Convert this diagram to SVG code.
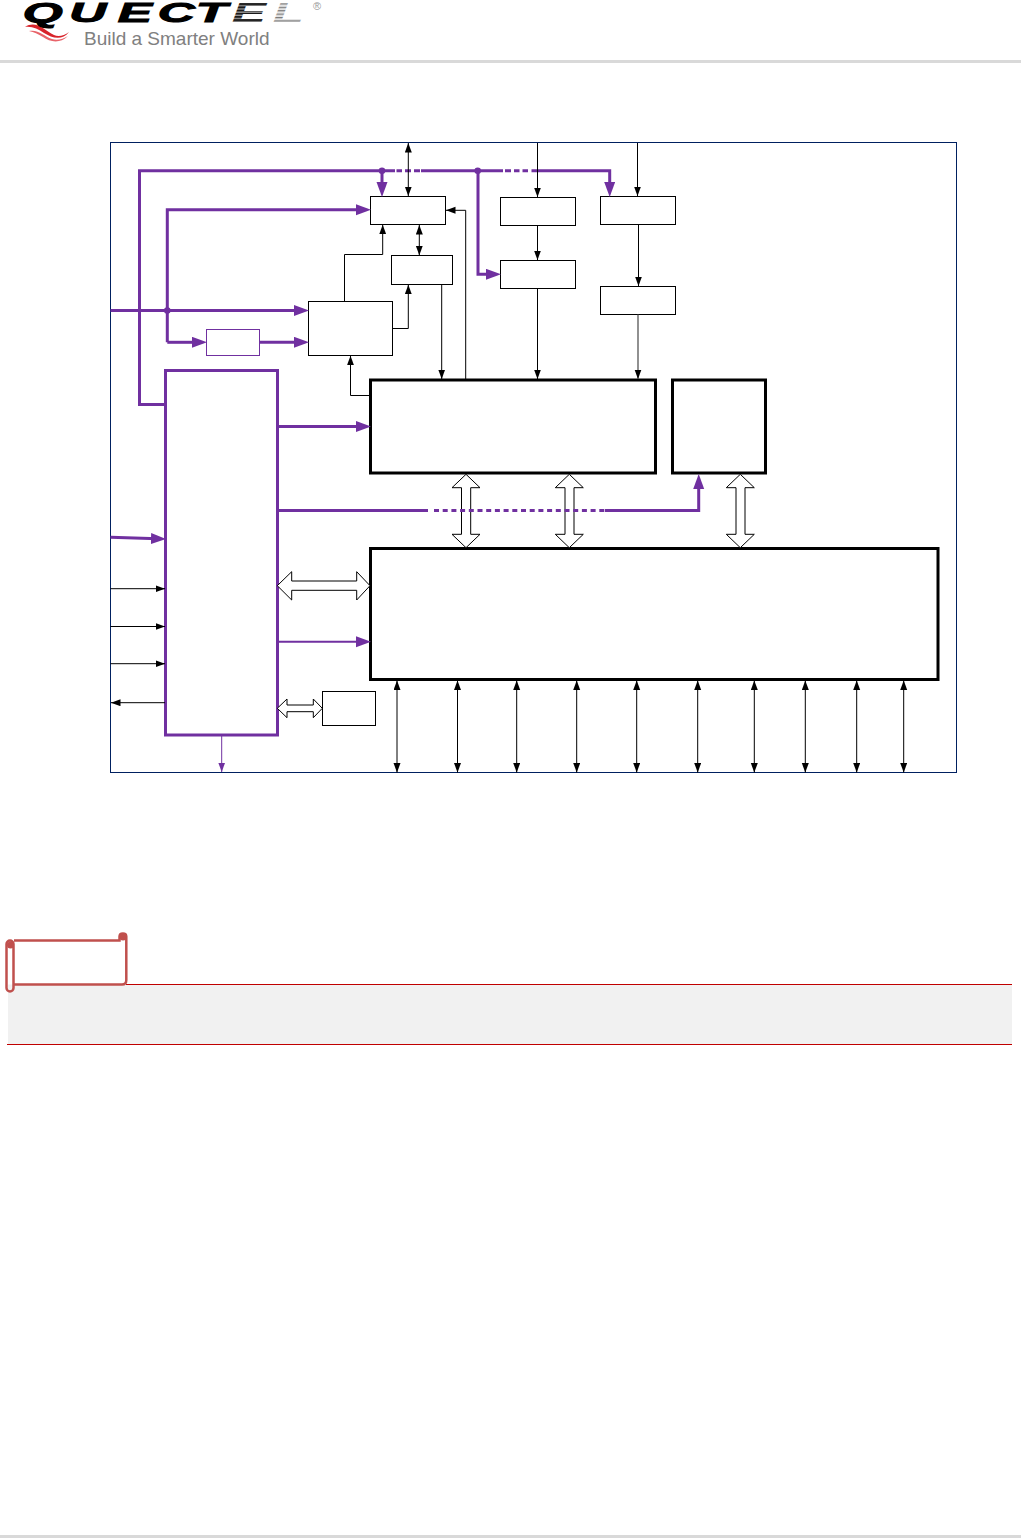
<svg xmlns="http://www.w3.org/2000/svg" width="1021" height="1538" viewBox="0 0 1021 1538">
<style>
.blk{fill:#fff;stroke:#000;stroke-width:1}
.big{fill:#fff;stroke:#000;stroke-width:3;stroke-linejoin:miter}
.pmi{fill:#fff;stroke:#7030a0;stroke-width:3}
.ln{fill:none;stroke:#000;stroke-width:1}
.a1{marker-end:url(#ah)}
.a2{marker-start:url(#ah);marker-end:url(#ah)}
.p{fill:none;stroke:#7030a0;stroke-width:3;stroke-linejoin:miter}
.pa{marker-end:url(#ph)}
.hol{fill:#fff;stroke:#000;stroke-width:1}
.logo{font-family:'Liberation Sans',Arial,sans-serif;font-size:27px;font-weight:700;font-style:italic}
</style>
<defs>
<marker id="ah" markerUnits="userSpaceOnUse" markerWidth="10" markerHeight="8" refX="9.5" refY="3.5" orient="auto-start-reverse"><path d="M0 0L9.5 3.5L0 7z" fill="#000"/></marker>
<marker id="ph" markerUnits="userSpaceOnUse" markerWidth="16" markerHeight="12" refX="7" refY="5.500" orient="auto"><path d="M0 0L15 5.500L0 11z" fill="#7030a0"/></marker>
<marker id="pt" markerUnits="userSpaceOnUse" markerWidth="10" markerHeight="8" refX="9.5" refY="3.5" orient="auto"><path d="M0 0L9.5 3.5L0 7z" fill="#7030a0"/></marker>
<pattern id="st1" width="4" height="3.2" patternUnits="userSpaceOnUse"><rect width="4" height="2.2" fill="#1a1a1a"/><rect y="2.2" width="4" height="1" fill="#9a9a9a"/></pattern>
<pattern id="st2" width="4" height="3.4" patternUnits="userSpaceOnUse"><rect width="4" height="1.4" fill="#777"/><rect y="1.4" width="4" height="2" fill="#e4e4e4"/></pattern>
</defs>
<rect width="1021" height="1538" fill="#fff"/>
<g id="header">
<path d="M25 27C36 20 44 30 54 35C58 37 64 36 69 32C62 41 52 38 44 33C38 29 32 26 25 27z" fill="#d8232a"/>
<path d="M29 31C38 29 44 36 52 39C57 41 63 39 68 36C60 44 50 42 43 37C38 34 34 32 29 31z" fill="#e8646a"/>
<g transform="scale(1.9,1)">
<text class="logo" y="22" stroke="#000" stroke-width="1" x="12 36.500 62 83 103" fill="#000">QUECT</text>
<text class="logo" y="22" x="122" fill="url(#st1)">E</text>
<text class="logo" y="22" x="143.500" fill="url(#st2)">L</text>
</g>
<text x="313" y="10" font-family="'Liberation Sans',Arial,sans-serif" font-size="11" fill="#999">®</text>
<text x="84" y="45" font-family="'Liberation Sans',Arial,sans-serif" font-size="19" fill="#808080">Build a Smarter World</text>
<rect x="0" y="60" width="1021" height="3" fill="#d9d9d9"/>
</g>
<rect id="frame" x="110.5" y="142.5" width="846" height="630" fill="#fff" stroke="#002060" stroke-width="1"/>
<g id="n-pmic"><rect class="pmi" x="165.5" y="370.5" width="112" height="364.5"/></g>
<g id="n-box-a"><rect class="blk" x="370.5" y="196.5" width="75" height="28"/></g>
<g id="n-box-b"><rect class="blk" x="391.5" y="255.5" width="61" height="29"/></g>
<g id="n-box-c"><rect class="blk" x="308.5" y="301.5" width="84" height="54"/></g>
<g id="n-box-d"><rect x="206.5" y="329.5" width="53" height="26" fill="#fff" stroke="#7030a0" stroke-width="1"/></g>
<g id="n-box-e"><rect class="blk" x="500.5" y="197.5" width="75" height="28"/></g>
<g id="n-box-f"><rect class="blk" x="500.5" y="260.5" width="75" height="28"/></g>
<g id="n-box-g"><rect class="blk" x="600.5" y="196.5" width="75" height="28"/></g>
<g id="n-box-h"><rect class="blk" x="600.5" y="286.5" width="75" height="28"/></g>
<g id="n-baseband"><rect class="big" x="370.5" y="380" width="285" height="93"/></g>
<g id="n-memory"><rect class="big" x="672.5" y="380" width="93" height="93"/></g>
<g id="n-peripherals"><rect class="big" x="370.5" y="548.5" width="567.5" height="131"/></g>
<g id="n-xtal"><rect class="blk" x="322.5" y="691.5" width="53" height="34"/></g>
<g id="connectors">
<path class="hol" d="M466 474.3L480 487.7H470.7V534.3H480L466 547.7L452 534.3H461.5V487.7H452z"/>
<path class="hol" d="M569.3 474.3L583.3 487.7H574V534.3H583.3L569.3 547.7L555.3 534.3H565V487.7H555.3z"/>
<path class="hol" d="M740.3 474.3L754.3 487.7H745V534.3H754.3L740.3 547.7L726.3 534.3H736V487.7H726.3z"/>
<path class="hol" d="M277.3 585.7L291.7 571.7V581H356.7V571.7L370 585.7L356.7 600V590.3H291.7V600z"/>
<path class="hol" d="M277.3 708.3L287 699V705H313.3V699L322.3 708.3L313.3 717.7V711.7H287V717.7z"/>
<path class="p" d="M165 404.5H139.5V170.7H395"/>
<path class="p" d="M396.5 170.7H402M405 170.7H411M414 170.7H420"/>
<path class="p" d="M421 170.7H503"/>
<path class="p" d="M505 170.7H511M514 170.7H519.500M522.500 170.7H528M531.500 170.7H537"/>
<path class="p pa" d="M538 170.700H609.700V189"/>
<path class="p pa" d="M382 170.700V189"/>
<path class="p pa" d="M478 170.700V274.300H493"/>
<circle cx="382" cy="170.700" r="3.300" fill="#7030a0"/>
<circle cx="477.700" cy="170.700" r="3.300" fill="#7030a0"/>
<path class="p pa" d="M167.300 342.300V209.700H363"/>
<path class="p pa" d="M110.500 310.500H301"/>
<path class="p pa" d="M167.300 342.300H199"/>
<circle cx="167.300" cy="310.500" r="3.300" fill="#7030a0"/>
<path class="p pa" d="M259.500 342.300H301"/>
<path class="p pa" d="M278 426.500H363"/>
<path class="p" d="M278 510.400H428"/>
<path d="M434 510.400H606" fill="none" stroke="#7030a0" stroke-width="3" stroke-dasharray="5 3.700"/>
<path class="p pa" d="M605 510.400H698.700V482"/>
<path class="p pa" d="M110.500 537.300L158 538.700"/>
<path class="pa" d="M278 641.800H363" fill="none" stroke="#7030a0" stroke-width="2"/>
<path d="M221.700 736V772" fill="none" stroke="#7030a0" stroke-width="1" marker-end="url(#pt)"/>
<path class="ln a2" d="M408.300 143V196"/>
<path class="ln a1" d="M344.500 301V254.500H382.700V224.800"/>
<path class="ln a2" d="M419.300 225V255.200"/>
<path class="ln a1" d="M392.700 328.500H408.300V284.800"/>
<path class="ln a1" d="M441.700 284.500V379"/>
<path class="ln a1" d="M465.700 379V210.300H446"/>
<path class="ln a1" d="M370 395.500H350.500V355.800"/>
<path class="ln a1" d="M537.500 143V197"/>
<path class="ln a1" d="M537.500 225.500V260"/>
<path class="ln a1" d="M537.500 288.500V379"/>
<path class="ln a1" d="M637.500 143V196"/>
<path class="ln a1" d="M638.500 224.500V286"/>
<path d="M638 314.500V379" fill="none" stroke="#555" stroke-width="1.300" marker-end="url(#ah)"/>
<path class="ln a1" d="M110.500 588.700H165"/>
<path class="ln a1" d="M110.500 626.500H165"/>
<path class="ln a1" d="M110.500 663.700H165"/>
<path class="ln a1" d="M165 702.700H111"/>
<path class="ln a2" d="M397 680.500V772.500"/>
<path class="ln a2" d="M457.500 680.500V772.500"/>
<path class="ln a2" d="M516.700 680.500V772.500"/>
<path class="ln a2" d="M576.700 680.500V772.500"/>
<path class="ln a2" d="M636.700 680.500V772.500"/>
<path class="ln a2" d="M697.700 680.500V772.500"/>
<path class="ln a2" d="M754.300 680.500V772.500"/>
<path class="ln a2" d="M805.300 680.500V772.500"/>
<path class="ln a2" d="M856.700 680.500V772.500"/>
<path class="ln a2" d="M903.700 680.500V772.500"/>
</g>
<g id="note">
<rect x="8" y="984.500" width="1004" height="60" fill="#f1f1f1"/>
<path d="M126 984.500H1012M7 1044.500H1012" stroke="#c00000" stroke-width="1" fill="none"/>
<circle cx="123" cy="937" r="3.500" fill="#c0504d"/>
<circle cx="10.500" cy="945" r="3.500" fill="#c0504d"/>
<g fill="none" stroke="#c0504d" stroke-width="2.500">
<path d="M14 940.500H119.500V936.500C119.500 932.500 126.300 932.500 126.300 936.500V980Q126.300 984.500 122 984.500H14"/>
<rect x="6.500" y="940.500" width="7" height="51" rx="3.500"/>
</g>
</g>
<rect id="footer" x="0" y="1535" width="1021" height="3" fill="#d9d9d9"/>
</svg>
